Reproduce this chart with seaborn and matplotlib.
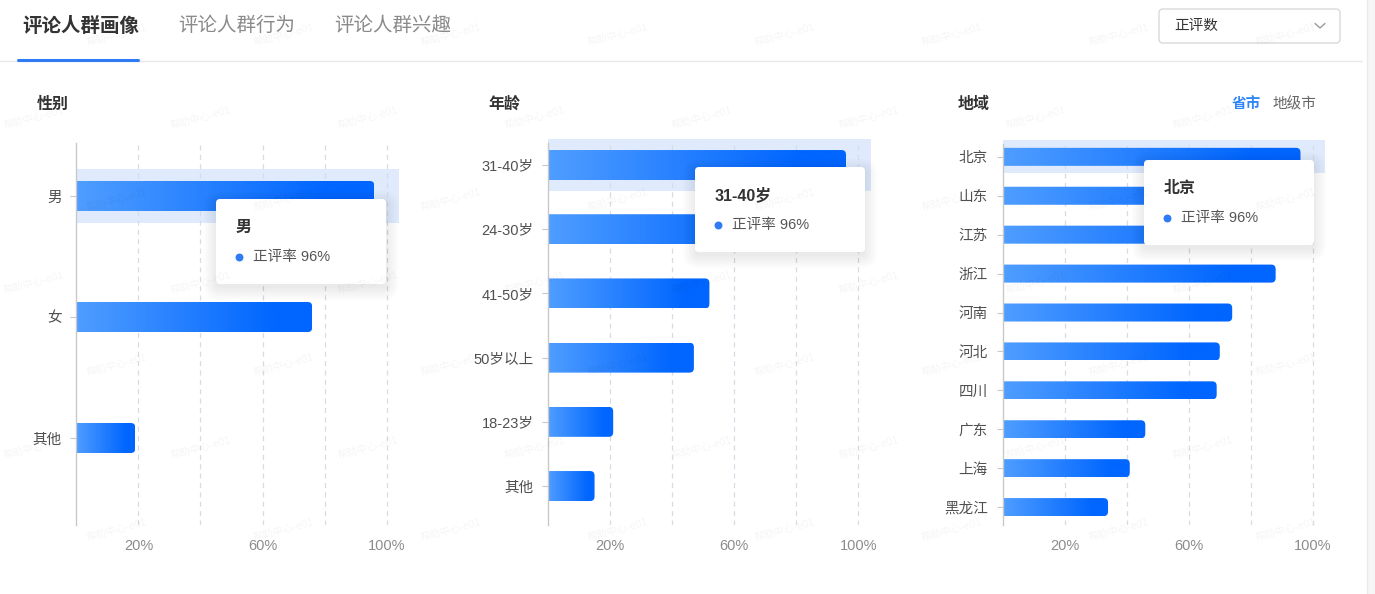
import matplotlib.pyplot as plt
import numpy as np
import pandas as pd
import seaborn as sns
from matplotlib.colors import LinearSegmentedColormap
from matplotlib.patches import FancyBboxPatch, Rectangle

# data (正评率, %)
gender_labels = ["男", "女", "其他"]
gender_rates = [96, 76, 19]
age_labels = ["31-40岁", "24-30岁", "41-50岁", "50岁以上", "18-23岁", "其他"]
age_rates = [96, 78, 52, 47, 21, 15]
region_labels = ["北京", "山东", "江苏", "浙江", "河南", "河北", "四川", "广东", "上海", "黑龙江"]
region_rates = [96, 93, 90, 88, 74, 70, 69, 46, 41, 34]

grid_ticks = [20, 40, 60, 80, 100]
tick_text = ["20%", "", "60%", "", "100%"]
tab_labels = ["评论人群画像", "评论人群行为", "评论人群兴趣"]
panel_titles = ["性别", "年龄", "地域"]
metric_name = "正评率"

W, H = 1375, 594
sns.set_theme(style="white")
plt.rcParams["font.family"] = ["Liberation Sans", "Noto Sans CJK SC", "DejaVu Sans"]

bar_cmap = LinearSegmentedColormap.from_list(
    "bar", [(0, "#4f9dff"), (0.85, "#0066ff"), (1, "#0066ff")]
)

fig = plt.figure(figsize=(W / 100, H / 100), dpi=100)
fig.patch.set_facecolor("white")


def px_axes(left, top, right, bottom):
    return fig.add_axes([left / W, 1 - bottom / H, (right - left) / W, (bottom - top) / H])


def draw_panel(ax, labels, values, ylim, bar_w, band_h):
    df = pd.DataFrame({"label": labels, "rate": values})
    sns.barplot(data=df, x="rate", y="label", ax=ax, width=bar_w,
                color="#1f7bff", errorbar=None)
    ax.set_xlim(0, 104)
    ax.set_ylim(*ylim)
    bars = list(ax.patches)

    # px per data unit, for round corners
    t = ax.transData
    sx = t.transform((1, 0))[0] - t.transform((0, 0))[0]
    sy = abs(t.transform((0, 1))[1] - t.transform((0, 0))[1])
    r = 4.5 / sx
    grad = np.linspace(0, 1, 256).reshape(1, -1)
    for p in bars:
        x0, y0, w, h = p.get_x(), p.get_y(), p.get_width(), p.get_height()
        p.set_visible(False)
        clip = FancyBboxPatch((x0 - r, y0), w + r, h,
                              boxstyle=f"round,pad=0,rounding_size={r}",
                              mutation_aspect=sx / sy, transform=ax.transData,
                              facecolor="none", edgecolor="none")
        ax.add_patch(clip)
        im = ax.imshow(grad, cmap=bar_cmap, aspect="auto", zorder=2,
                       extent=(x0, x0 + w, y0 + h, y0), interpolation="bilinear")
        im.set_clip_path(clip)

    # hovered row highlight
    ax.add_patch(Rectangle((0, -band_h / 2), 104, band_h, facecolor="#dfeafc",
                           edgecolor="none", zorder=0.2, clip_on=False))
    ax.set_xlim(0, 104)
    ax.set_ylim(*ylim)

    ax.set_axisbelow(True)
    ax.set_xticks(grid_ticks)
    ax.set_xticklabels(tick_text)
    ax.xaxis.grid(True, linestyle=(0, (4, 3.5)), color="#d6dce6", linewidth=0.9)
    ax.yaxis.grid(False)
    ax.tick_params(axis="x", length=0, pad=10, labelcolor="#8c8c8c", labelsize=10.5)
    ax.tick_params(axis="y", length=4, width=0.8, color="#c8c8c8", pad=6.5,
                   labelcolor="#505050", labelsize=10.5, left=True)
    for s in ["top", "right", "bottom"]:
        ax.spines[s].set_visible(False)
    ax.spines["left"].set_color("#c8c8c8")
    ax.spines["left"].set_linewidth(1)
    ax.set_xlabel("")
    ax.set_ylabel("")
    ax.set_facecolor("none")


ax1 = px_axes(76.3, 143, 76.3 + 3.104 * 104, 525)
draw_panel(ax1, gender_labels, gender_rates, (2.719, -0.438), 0.248, 0.44)
ax2 = px_axes(548, 143, 548 + 3.104 * 104, 525)
draw_panel(ax2, age_labels, age_rates, (5.607, -0.343), 0.467, 0.81)
ax3 = px_axes(1002.5, 144, 1002.5 + 3.104 * 104, 525)
draw_panel(ax3, region_labels, region_rates, (9.46, -0.33), 0.463, 0.85)

# overlay in pixel coordinates for the page chrome
ov = fig.add_axes([0, 0, 1, 1], zorder=10)
ov.set_xlim(0, W)
ov.set_ylim(H, 0)
ov.axis("off")
ov.patch.set_alpha(0)

# tabs
for i, (lab, x) in enumerate(zip(tab_labels, [22, 178, 334])):
    ov.text(x, 26, lab, fontsize=14, va="center", ha="left",
            color="#333333" if i == 0 else "#8a8a8a",
            fontweight="bold" if i == 0 else "normal")
ov.plot([0, 1362], [61, 61], color="#e6e8eb", lw=1)
ov.plot([18, 138], [60, 60], color="#2f7bf5", lw=2.2, solid_capstyle="round")

# dropdown
ov.add_patch(FancyBboxPatch((1159, 9), 181, 34, boxstyle="round,pad=0,rounding_size=4",
                            facecolor="white", edgecolor="#d9d9d9", lw=1))
ov.text(1174, 26, "正评数", fontsize=10.5, va="center", ha="left", color="#333333")
ov.plot([1315, 1320, 1325], [23.5, 28, 23.5], color="#9a9a9a", lw=1)

# right scrollbar strip
ov.add_patch(Rectangle((1367, 0), 8, H, facecolor="#f6f6f6", edgecolor="none"))
ov.plot([1367, 1367], [0, H], color="#ebebeb", lw=1)

# panel titles
for lab, x in zip(panel_titles, [37, 488, 958]):
    ov.text(x, 104, lab, fontsize=11.5, va="center", ha="left",
            color="#333333", fontweight="bold")
ov.text(1232, 104, "省市", fontsize=10.5, va="center", ha="left",
        color="#2f86f6", fontweight="bold")
ov.text(1273, 104, "地级市", fontsize=10.5, va="center", ha="left", color="#666666")


def tooltip(x, y, title, value):
    w, h = 170, 85
    for i in range(7):
        ov.add_patch(FancyBboxPatch((x - 2 * i, y - 2 * i + 4), w + 4 * i, h + 4 * i,
                                    boxstyle=f"round,pad=0,rounding_size={4 + 2 * i}",
                                    facecolor="black", alpha=0.012, edgecolor="none"))
    ov.add_patch(FancyBboxPatch((x, y), w, h, boxstyle="round,pad=0,rounding_size=4",
                                facecolor="white", edgecolor="none"))
    ov.text(x + 20, y + 28, title, fontsize=11.5, va="center", ha="left",
            color="#333333", fontweight="bold")
    ov.scatter([x + 23], [y + 58], s=22, color="#2f7bf5", zorder=12)
    ov.text(x + 37, y + 58, f"{metric_name} {value}%", fontsize=10.5,
            va="center", ha="left", color="#555555", zorder=12)


tooltip(216, 199, gender_labels[0], gender_rates[0])
tooltip(695, 167, age_labels[0], age_rates[0])
tooltip(1144, 160, region_labels[0], region_rates[0])

# watermark, kept inside the frame
for k in range(7):
    y = 35 + 82.5 * k
    off = 83 if k % 2 == 0 else 0
    for j in range(9):
        x = off + 167 * j + 2
        if x + 70 > 1362:
            continue
        ov.text(x, y, "帮助中心-e01", fontsize=7.5, rotation=15,
                va="center", ha="left", color="#000000", alpha=0.045, zorder=20)

fig.savefig("out.png", dpi=100, facecolor="white")
